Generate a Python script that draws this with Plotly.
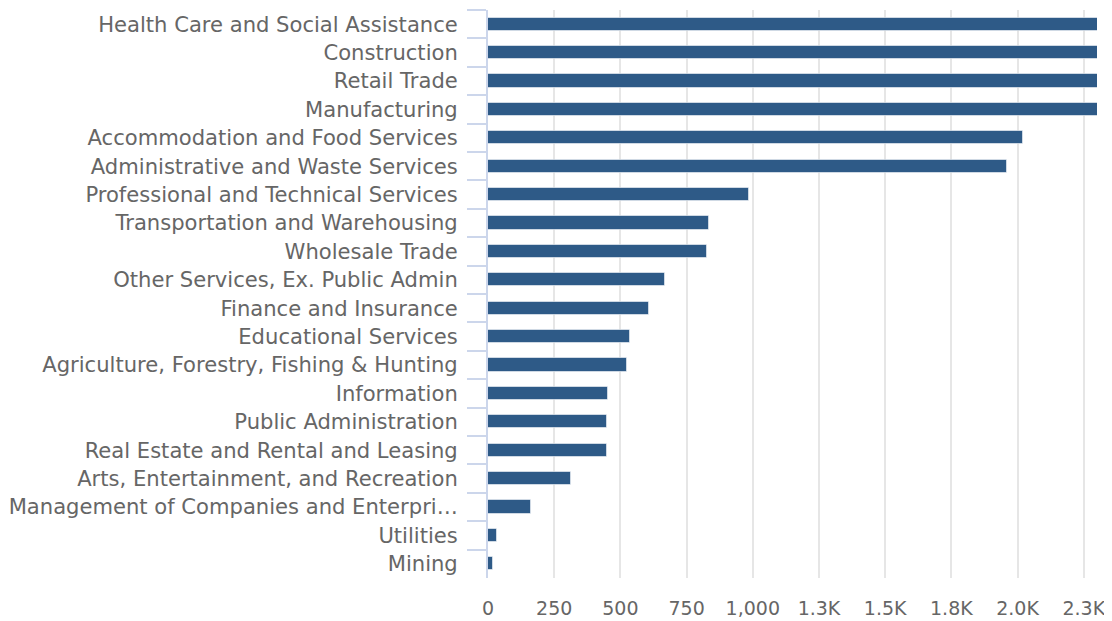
import plotly.graph_objects as go

categories = [
    "Health Care and Social Assistance",
    "Construction",
    "Retail Trade",
    "Manufacturing",
    "Accommodation and Food Services",
    "Administrative and Waste Services",
    "Professional and Technical Services",
    "Transportation and Warehousing",
    "Wholesale Trade",
    "Other Services, Ex. Public Admin",
    "Finance and Insurance",
    "Educational Services",
    "Agriculture, Forestry, Fishing & Hunting",
    "Information",
    "Public Administration",
    "Real Estate and Rental and Leasing",
    "Arts, Entertainment, and Recreation",
    "Management of Companies and Enterpri\u2026",
    "Utilities",
    "Mining",
]
values = [3900, 3100, 2900, 2600, 2020, 1960, 985, 834, 826, 667,
          607, 538, 524, 455, 449, 448, 312, 161, 33, 17]

tick_vals = [0, 250, 500, 750, 1000, 1250, 1500, 1750, 2000, 2250]
tick_text = ["0", "250", "500", "750", "1,000", "1.3K", "1.5K", "1.8K", "2.0K", "2.3K"]

fig = go.Figure(go.Bar(
    x=values,
    y=categories,
    orientation="h",
    width=0.46,
    marker=dict(color="#2e5a87", line=dict(color="rgba(255,255,255,0.55)", width=1)),
    hoverinfo="x+y",
))

# page body has an 8px default margin: figure is placed at (8, 8)
fig.update_layout(
    width=1104,
    height=613,
    margin=dict(l=480, r=15, t=2, b=43),
    paper_bgcolor="white",
    plot_bgcolor="white",
    showlegend=False,
    font=dict(family="DejaVu Sans", color="#666666"),
    bargap=0,
)

fig.update_xaxes(
    range=[0, 2300],
    tickvals=tick_vals,
    ticktext=tick_text,
    showgrid=True,
    gridcolor="#e6e6e6",
    gridwidth=2,
    zeroline=False,
    showline=False,
    ticks="",
    tickfont=dict(size=19, color="#666666"),
    ticklabelstandoff=17,
)

fig.update_yaxes(
    type="category",
    autorange="reversed",
    showgrid=False,
    showline=True,
    linecolor="#ccd6eb",
    linewidth=2,
    ticks="outside",
    tickson="boundaries",
    ticklen=19,
    tickwidth=2,
    tickcolor="#ccd6eb",
    tickfont=dict(size=21.1, color="#666666"),
    ticklabelstandoff=24,
)

fig.write_html("out.html")
